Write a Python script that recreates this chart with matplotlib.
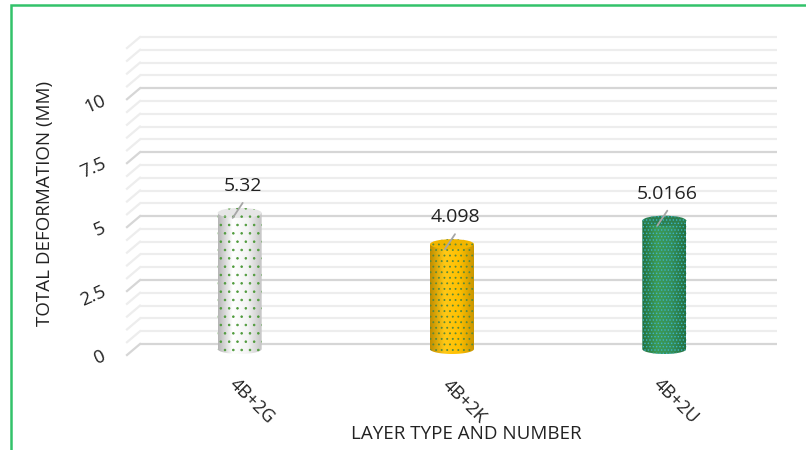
import numpy as np
import matplotlib.pyplot as plt
from matplotlib.patches import Ellipse, PathPatch, Rectangle
from matplotlib.path import Path
from matplotlib.colors import LinearSegmentedColormap
from matplotlib.transforms import offset_copy

plt.rcParams['font.family'] = ['Open Sans', 'DejaVu Sans']
plt.rcParams['hatch.linewidth'] = 0.6

# data
layers = ['4B+2G', '4B+2K', '4B+2U']
deformation = [5.32, 4.098, 5.0166]
value_labels = ['5.32', '4.098', '5.0166']
y_ticks = [0, 2.5, 5, 7.5, 10]
y_tick_labels = ['0', '2.5', '5', '7.5', '10']
y_max = 12
y_step = 0.5

# cylinder looks: side shading (left edge -> right edge), top colour, dot colour, hatch
side_cols = [['#b5b5b5', '#ffffff', '#f4f4f4', '#c4c4c4'],
             ['#c08e00', '#ffc816', '#ffc000', '#c99600'],
             ['#226f3e', '#3d9a55', '#35905a', '#23703f']]
top_cols = ['#e6e6e6', '#f2b600', '#2d7f4e']
dot_cols = ['#4e9a3a', '#5a8a3a', '#3cb4c8']
hatches = ['..', '...', '.....']

# pixel geometry of the fake 3d chart
PX = 212.33   # px per category
PY = 25.58    # px per value unit
x0_px, y0_px = 140, 344
W, H = 806, 450
ax_l, ax_r, ax_t, ax_b = 90, 795, 25, 375

fig = plt.figure(figsize=(W / 100, H / 100), dpi=100)
ax = fig.add_axes([ax_l / W, (H - ax_b) / H, (ax_r - ax_l) / W, (ax_b - ax_t) / H])
ax.set_axis_off()

# back wall grid with little side-wall diagonals
levels = np.arange(0, y_max + 0.01, y_step)
for v in levels:
    major = any(abs(v - t) < 1e-9 for t in y_ticks)
    c = '#d6d6d6' if major else '#ededed'
    ax.plot([-0.5, 2.5], [v, v], color=c, lw=1.6, zorder=1, solid_capstyle='butt')
    ax.plot([-0.5 - 13 / PX, -0.5], [v - 11 / PY, v], color=c, lw=1.6, zorder=1)

for t, lab in zip(y_ticks, y_tick_labels):
    ax.annotate(lab, (-0.5, t), xytext=(-35, -11), textcoords='offset pixels',
                rotation=24, rotation_mode='anchor', ha='right', va='center',
                fontsize=13.5, color='#222222')

# cylinders
w = 44 / PX
eh = 10 / PY
dx = -6.5 / PX
dy = -5 / PY
grad = np.linspace(0, 1, 256)[None, :]
for i, (v, lab, vl) in enumerate(zip(deformation, layers, value_labels)):
    cx = i + dx
    top = v + dy
    t = np.linspace(np.pi, 2 * np.pi, 60)
    xs = list(cx + w / 2 * np.cos(t)) + [cx + w / 2, cx - w / 2]
    ys = list(dy + eh / 2 * np.sin(t)) + [top, top]
    body = Path(np.column_stack([xs, ys]), closed=False)
    clip = PathPatch(body, fc='none', ec='none', transform=ax.transData)
    ax.add_patch(clip)
    cmap = LinearSegmentedColormap.from_list('c%d' % i, side_cols[i])
    im = ax.imshow(grad, cmap=cmap, extent=[cx - w / 2, cx + w / 2, dy - eh / 2, top],
                   aspect='auto', zorder=3, interpolation='bilinear')
    im.set_clip_path(clip)
    ax.add_patch(PathPatch(body, fc='none', ec=dot_cols[i], lw=0, hatch=hatches[i], zorder=4))
    ax.add_patch(Ellipse((cx, top), w, eh, fc=top_cols[i], ec=dot_cols[i], lw=0,
                         hatch=hatches[i], zorder=5))
    # leader + value label
    ax.annotate('', xy=(cx, top), xycoords=offset_copy(ax.transData, fig=fig, x=-7, y=-5, units='dots'),
                xytext=(cx, top), textcoords=offset_copy(ax.transData, fig=fig, x=3, y=10, units='dots'),
                arrowprops=dict(arrowstyle='-', color='#a6a6a6', lw=1.3, shrinkA=0, shrinkB=0),
                zorder=6)
    ax.annotate(vl, (cx, top), xytext=(3, 27), textcoords='offset pixels',
                ha='center', va='center', fontsize=14, color='#222222', zorder=6)
    ax.annotate(lab, (cx, dy), xytext=(12, -52), textcoords='offset pixels',
                rotation=-45, ha='center', va='center', fontsize=13, color='#222222')

ax.set_xlim(-0.5 - (x0_px - ax_l) / PX, -0.5 + (ax_r - x0_px) / PX)
ax.set_ylim(-(ax_b - y0_px) / PY, (y0_px - ax_t) / PY)

fig.text(45 / W, 1 - 203 / H, 'TOTAL DEFORMATION (MM)', rotation=90, ha='center', va='center',
         fontsize=13.5, color='#222222')
fig.text(466 / W, 1 - 434 / H, 'LAYER TYPE AND NUMBER', ha='center', va='center',
         fontsize=13.5, color='#222222')

# green frame
fig.patches.append(Rectangle((11 / W, -0.1), 1.2, 1 - 5 / H + 0.1, transform=fig.transFigure,
                             fill=False, ec='#33c26a', lw=1.8, zorder=10))

fig.savefig('out.png', dpi=100)
